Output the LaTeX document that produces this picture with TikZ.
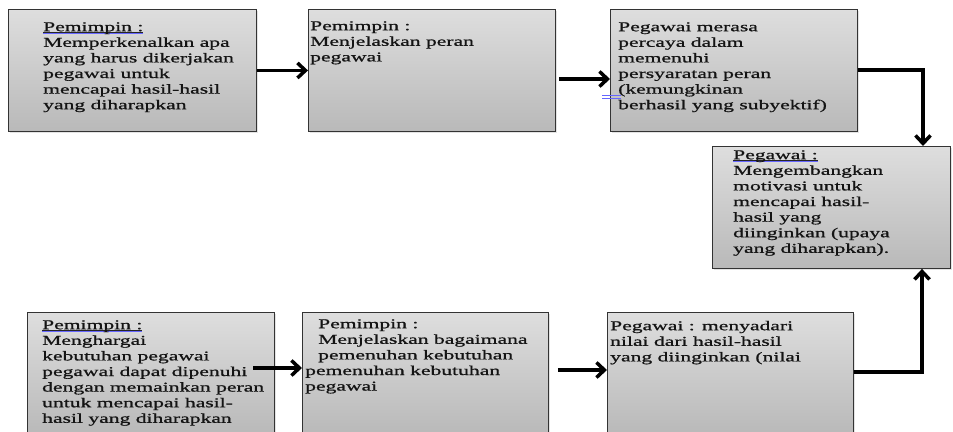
\documentclass[tikz,border=0pt]{standalone}
\usepackage{fontspec}
\newfontfamily\boxfont{Liberation Serif}[FakeStretch=1.6,FakeBold=0.9]
\usetikzlibrary{arrows.meta,shadows,calc}
\newsavebox\ulbox
\newcommand\spellmark[1]{\sbox\ulbox{#1}\rlap{\color{black!85}\rule[-1.4pt]{\wd\ulbox}{0.8pt}}\rlap{\color{blue!60}\rule[-2.7pt]{\wd\ulbox}{0.7pt}}\usebox\ulbox}
\tikzset{
  boxnode/.style={draw=black!80, line width=0.9pt, top color=gray!26, bottom color=gray!55,
    minimum height=122pt, anchor=north west, inner sep=0pt,
    drop shadow={opacity=0.22, shadow xshift=1.5pt, shadow yshift=-1.5pt}},
  txt/.style={anchor=north west, inner sep=0pt, align=left, yshift=10.92pt,
    font=\boxfont\fontsize{13.5}{15.6}\selectfont, text=black!92},
  flow/.style={line width=3.5pt, -{Straight Barb[length=8pt,width=15pt]}}
}
\begin{document}
\begin{tikzpicture}[x=1pt,y=-1pt]
\useasboundingbox (0,0) rectangle (953,431);
\clip (0,0) rectangle (953,431);
% boxes
\node[boxnode, minimum width=248pt] (b1) at (8,9) {};
\node[boxnode, minimum width=247pt] (b2) at (308,9) {};
\node[boxnode, minimum width=247pt] (b3) at (610,9) {};
\node[boxnode, minimum width=238pt] (b4) at (712,146) {};
\node[boxnode, minimum width=247pt] (b5) at (27,312) {};
\node[boxnode, minimum width=246pt] (b6) at (302,312) {};
\node[boxnode, minimum width=246pt] (b7) at (607,312) {};
% texts (positions are first-line baselines)
\node[txt] (t1) at (43,31) {\strut\spellmark{Pemimpin :}\\Memperkenalkan apa\\yang harus dikerjakan\\pegawai untuk\\mencapai hasil-hasil\\yang diharapkan};
\node[txt] (t2) at (310,30) {\strut Pemimpin :\\Menjelaskan peran\\pegawai};
\node[txt] (t3) at (618,31) {\strut Pegawai merasa\\percaya dalam\\memenuhi\\persyaratan peran\\(kemungkinan\\berhasil yang subyektif)};
\node[txt] (t4) at (733,159) {\strut\spellmark{Pegawai :}\\Mengembangkan\\motivasi untuk\\mencapai hasil-\\hasil yang\\diinginkan (upaya\\yang diharapkan).};
\node[txt] (t5) at (42,329) {\strut\spellmark{Pemimpin :}\\Menghargai\\kebutuhan pegawai\\pegawai dapat dipenuhi\\dengan memainkan peran\\untuk mencapai hasil-\\hasil yang diharapkan};
\node[txt] (t6a) at (318,328) {\strut Pemimpin :\\Menjelaskan bagaimana\\pemenuhan kebutuhan};
\node[txt] (t6b) at (305,374.8) {\strut pemenuhan kebutuhan\\pegawai};
\node[txt] (t7) at (610,330) {\strut Pegawai : menyadari\\nilai dari hasil-hasil\\yang diinginkan (nilai};
% small blue mark
\draw[blue!60, line width=0.6pt] (602,95) -- (621,95) (602,98) -- (621,98);
% connectors
\coordinate (s5) at (253,368);
\coordinate (c34) at (923,70);
\coordinate (c74) at (922,372);
\draw[flow] (b1.east) -- (b2.west);
\draw[flow, shorten <=3pt] (b2.east |- 0,79) -- (b3.west |- 0,79);
\draw[flow] (b3.east |- c34) -- (c34) -- (c34 |- b4.north);
\draw[flow] (b7.east |- c74) -- (c74) -- (c74 |- b4.south);
\draw[flow] (s5) -- (b6.west |- s5);
\draw[flow, shorten <=9pt] (b6.east |- 0,370) -- (b7.west |- 0,370);
\end{tikzpicture}
\end{document}
